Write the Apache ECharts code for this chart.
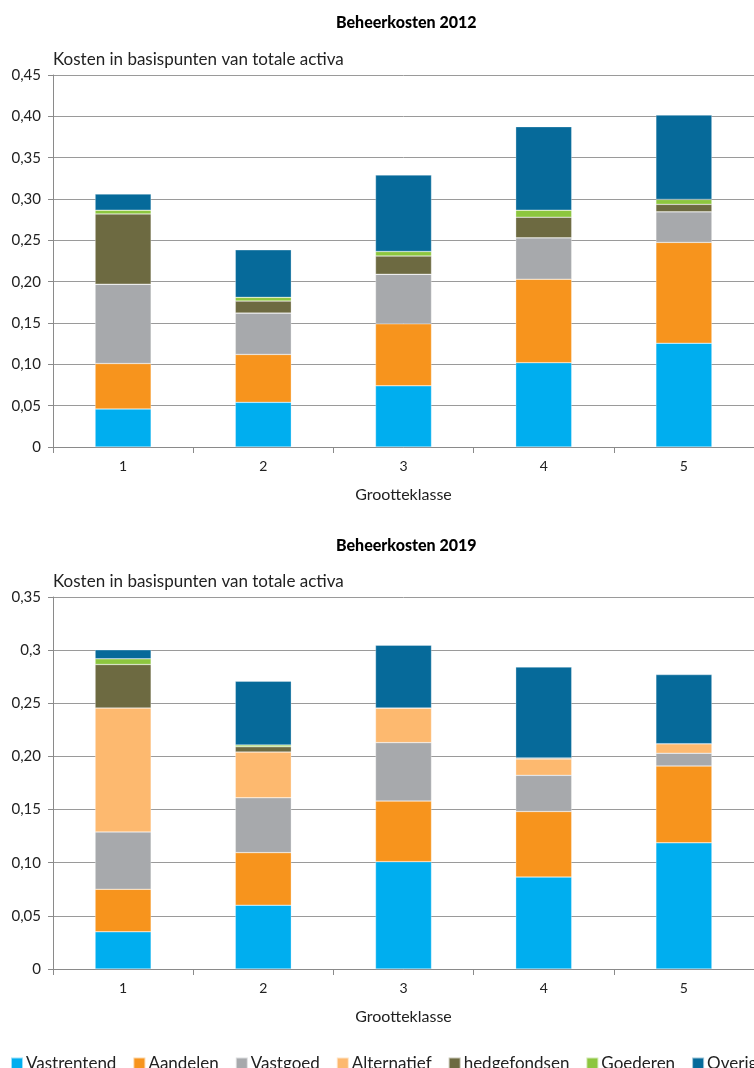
<!DOCTYPE html>
<html>
<head>
<meta charset="utf-8">
<script src="https://cdn.jsdelivr.net/npm/echarts@6/dist/echarts.min.js"></script>
<style>
  html, body { margin: 0; padding: 0; background: #fff; }
  #container { width: 754px; height: 1068px; }
</style>
</head>
<body>
<div id="container"></div>
<script>
// grootteklassen
var categories = ['1', '2', '3', '4', '5'];
var seriesNames = ['Vastrentend', 'Aandelen', 'Vastgoed', 'Alternatief', 'hedgefondsen', 'Goederen', 'Overig'];
var seriesColors = ['#00aeef', '#f7941d', '#a7a9ac', '#fdb96f', '#6d6a41', '#8dc63f', '#066a9a'];

// 2012
var vastrentend2012 = [0.046, 0.054, 0.074, 0.102, 0.1255];
var aandelen2012 = [0.055, 0.058, 0.075, 0.101, 0.122];
var vastgoed2012 = [0.096, 0.050, 0.060, 0.050, 0.037];
var alternatief2012 = [0, 0, 0, 0, 0];
var hedge2012 = [0.085, 0.0145, 0.022, 0.025, 0.009];
var goederen2012 = [0.0045, 0.0045, 0.0055, 0.0085, 0.006];
var overig2012 = [0.0195, 0.0575, 0.0925, 0.101, 0.102];

// 2019
var vastrentend2019 = [0.035, 0.060, 0.101, 0.0865, 0.1187];
var aandelen2019 = [0.040, 0.0495, 0.057, 0.0617, 0.0723];
var vastgoed2019 = [0.054, 0.0516, 0.055, 0.034, 0.012];
var alternatief2019 = [0.1165, 0.043, 0.0326, 0.0154, 0.009];
var hedge2019 = [0.041, 0.005, 0, 0.001, 0];
var goederen2019 = [0.0053, 0.0016, 0, 0, 0];
var overig2019 = [0.0085, 0.060, 0.059, 0.0855, 0.065];

var ticks2012 = ['0', '0,05', '0,10', '0,15', '0,20', '0,25', '0,30', '0,35', '0,40', '0,45'];
var ticks2019 = ['0', '0,05', '0,10', '0,15', '0,20', '0,25', '0,3', '0,35'];

var data2012 = [vastrentend2012, aandelen2012, vastgoed2012, alternatief2012, hedge2012, goederen2012, overig2012];
var data2019 = [vastrentend2019, aandelen2019, vastgoed2019, alternatief2019, hedge2019, goederen2019, overig2019];

var textFont = 'Lato';
var axisGrey = '#8a8a8a';

function yAxisFor(gridIndex, max, labels) {
    return {
        gridIndex: gridIndex,
        type: 'value',
        min: 0,
        max: max,
        interval: 0.05,
        name: 'Kosten in basispunten van totale activa',
        nameLocation: 'end',
        nameGap: 7,
        nameTextStyle: { align: 'left', verticalAlign: 'bottom', fontFamily: textFont, fontSize: 17, color: '#222' },
        axisLine: { show: true, lineStyle: { color: axisGrey, width: 1 } },
        axisTick: { show: true, length: 5, lineStyle: { color: axisGrey } },
        axisLabel: {
            margin: 12, fontFamily: textFont, fontSize: 15, color: '#222',
            formatter: function (v) { return labels[Math.round(v / 0.05)]; }
        },
        splitLine: { show: true, lineStyle: { color: '#9a9a9a', width: 1 } }
    };
}

function xAxisFor(gridIndex) {
    return {
        gridIndex: gridIndex,
        type: 'category',
        data: categories,
        name: 'Grootteklasse',
        nameLocation: 'middle',
        nameGap: 40,
        nameTextStyle: { fontFamily: textFont, fontSize: 16, color: '#222' },
        axisLine: { lineStyle: { color: axisGrey, width: 1 } },
        axisTick: { show: true, length: 6, lineStyle: { color: axisGrey } },
        axisLabel: { margin: 12, fontFamily: textFont, fontSize: 14, color: '#222' }
    };
}

var series = [];
for (var k = 0; k < 2; k++) {
    var src = k === 0 ? data2012 : data2019;
    for (var i = 0; i < seriesNames.length; i++) {
        series.push({
            name: seriesNames[i],
            type: 'bar',
            stack: 'kosten' + k,
            xAxisIndex: k,
            yAxisIndex: k,
            barWidth: 56,
            data: src[i],
            itemStyle: { color: seriesColors[i], borderColor: 'rgba(255,255,255,0.6)', borderWidth: 0.5 },
            emphasis: { disabled: true }
        });
    }
}

var myChart = echarts.init(document.getElementById('container'), null, { renderer: 'canvas' });
var option = {
    animation: false,
    backgroundColor: '#fff',
    color: seriesColors,
    title: [
        { text: 'Beheerkosten 2012', left: 331, top: 10, textStyle: { fontFamily: textFont, fontWeight: 900, fontSize: 16, color: '#000' } },
        { text: 'Beheerkosten 2019', left: 331, top: 533, textStyle: { fontFamily: textFont, fontWeight: 900, fontSize: 16, color: '#000' } }
    ],
    legend: {
        data: seriesNames,
        left: 5,
        top: 1050,
        width: 1000,
        itemWidth: 12,
        itemHeight: 12,
        itemGap: 16,
        icon: 'rect',
        textStyle: { fontFamily: textFont, fontSize: 17, color: '#222', padding: [0, 0, 0, -2] }
    },
    grid: [
        { left: 53, top: 75, width: 704, height: 372 },
        { left: 53, top: 597, width: 704, height: 372 }
    ],
    xAxis: [xAxisFor(0), xAxisFor(1)],
    yAxis: [yAxisFor(0, 0.45, ticks2012), yAxisFor(1, 0.35, ticks2019)],
    series: series
};
myChart.setOption(option);
</script>
</body>
</html>
